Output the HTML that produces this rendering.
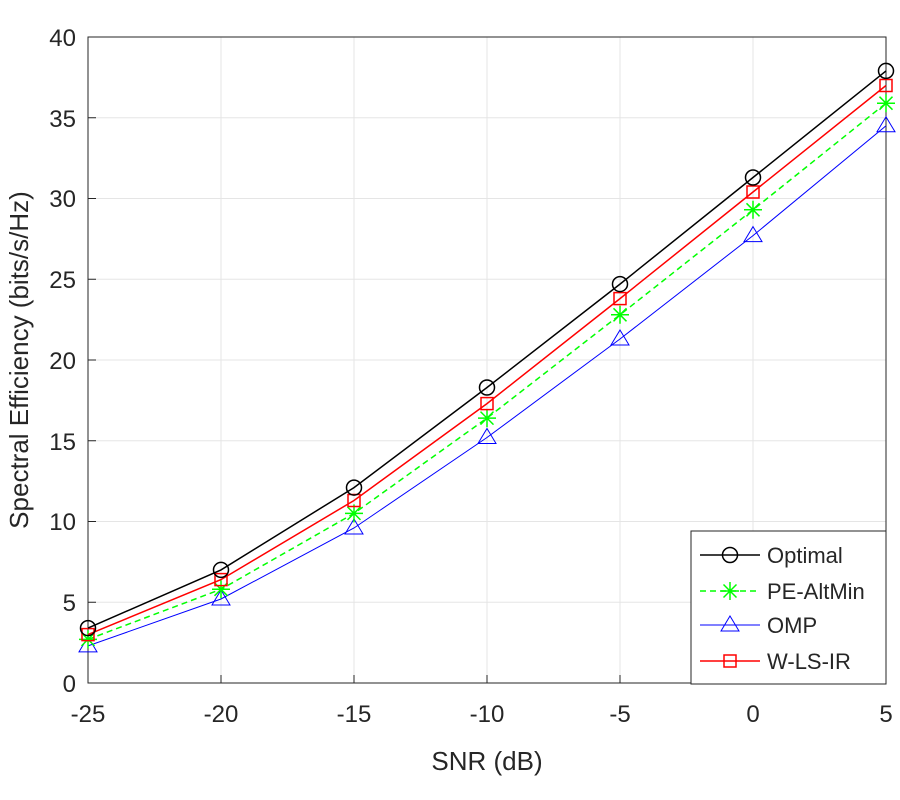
<!DOCTYPE html>
<html><head><meta charset="utf-8"><style>body{margin:0;background:#fff}svg{display:block}text{font-family:"Liberation Sans",sans-serif;fill:#262626}</style></head><body>
<svg width="900" height="800" xmlns="http://www.w3.org/2000/svg">
<rect x="0" y="0" width="900" height="800" fill="#fff"/>
<g stroke="#e5e5e5" stroke-width="1">
<line x1="221" y1="37" x2="221" y2="683"/><line x1="354" y1="37" x2="354" y2="683"/><line x1="487" y1="37" x2="487" y2="683"/><line x1="620" y1="37" x2="620" y2="683"/><line x1="753" y1="37" x2="753" y2="683"/>
<line x1="88" y1="602.25" x2="886" y2="602.25"/><line x1="88" y1="521.5" x2="886" y2="521.5"/><line x1="88" y1="440.75" x2="886" y2="440.75"/><line x1="88" y1="360" x2="886" y2="360"/><line x1="88" y1="279.25" x2="886" y2="279.25"/><line x1="88" y1="198.5" x2="886" y2="198.5"/><line x1="88" y1="117.75" x2="886" y2="117.75"/>
</g>
<rect x="88" y="37" width="798" height="646" fill="none" stroke="#262626" stroke-width="1"/>
<g stroke="#262626">
<line x1="221" y1="683" x2="221" y2="675"/><line x1="354" y1="683" x2="354" y2="675"/><line x1="487" y1="683" x2="487" y2="675"/><line x1="620" y1="683" x2="620" y2="675"/><line x1="753" y1="683" x2="753" y2="675"/>
<line x1="88" y1="602.25" x2="96" y2="602.25"/><line x1="88" y1="521.5" x2="96" y2="521.5"/><line x1="88" y1="440.75" x2="96" y2="440.75"/><line x1="88" y1="360" x2="96" y2="360"/><line x1="88" y1="279.25" x2="96" y2="279.25"/><line x1="88" y1="198.5" x2="96" y2="198.5"/><line x1="88" y1="117.75" x2="96" y2="117.75"/>
</g>
<g font-size="24" text-anchor="middle">
<text x="88" y="722">-25</text><text x="221" y="722">-20</text><text x="354" y="722">-15</text><text x="487" y="722">-10</text><text x="620" y="722">-5</text><text x="753" y="722">0</text><text x="886" y="722">5</text>
</g>
<g font-size="24" text-anchor="end">
<text x="76" y="692">0</text><text x="76" y="611">5</text><text x="76" y="530">10</text><text x="76" y="450">15</text><text x="76" y="369">20</text><text x="76" y="288">25</text><text x="76" y="207">30</text><text x="76" y="127">35</text><text x="76" y="46">40</text>
</g>
<text x="487" y="770" font-size="26" text-anchor="middle">SNR (dB)</text>
<text transform="translate(28,360) rotate(-90)" font-size="26" text-anchor="middle">Spectral Efficiency (bits/s/Hz)</text>
<polyline fill="none" stroke="#0000ff" stroke-width="1" points="88,645.9 221,599 354,528 487,437.5 620,339 753,235.6 886,125.8"/>
<g fill="none" stroke="#0000ff" stroke-width="1">
<path d="M88,636.9 l9,15 h-18z"/><path d="M221,590 l9,15 h-18z"/><path d="M354,519 l9,15 h-18z"/><path d="M487,428.5 l9,15 h-18z"/><path d="M620,330 l9,15 h-18z"/><path d="M753,226.6 l9,15 h-18z"/><path d="M886,116.8 l9,15 h-18z"/>
</g>
<polyline fill="none" stroke="#00ff00" stroke-width="1.5" stroke-dasharray="6,4" points="88,639.4 221,589.3 354,513.4 487,418.1 620,314.8 753,209.8 886,103.2"/>
<g stroke="#00ff00" stroke-width="1.5">
<path d="M-9,0h18M0,-9v18M-6.5,-6.5l13,13M-6.5,6.5l13,-13" transform="translate(88,639.4)"/>
<path d="M-9,0h18M0,-9v18M-6.5,-6.5l13,13M-6.5,6.5l13,-13" transform="translate(221,589.3)"/>
<path d="M-9,0h18M0,-9v18M-6.5,-6.5l13,13M-6.5,6.5l13,-13" transform="translate(354,513.4)"/>
<path d="M-9,0h18M0,-9v18M-6.5,-6.5l13,13M-6.5,6.5l13,-13" transform="translate(487,418.1)"/>
<path d="M-9,0h18M0,-9v18M-6.5,-6.5l13,13M-6.5,6.5l13,-13" transform="translate(620,314.8)"/>
<path d="M-9,0h18M0,-9v18M-6.5,-6.5l13,13M-6.5,6.5l13,-13" transform="translate(753,209.8)"/>
<path d="M-9,0h18M0,-9v18M-6.5,-6.5l13,13M-6.5,6.5l13,-13" transform="translate(886,103.2)"/>
</g>
<polyline fill="none" stroke="#ff0000" stroke-width="1.5" points="88,634.6 221,579.6 354,500.5 487,403.6 620,298.6 753,192 886,85.5"/>
<g fill="none" stroke="#ff0000" stroke-width="1.5">
<rect x="82" y="628.6" width="12" height="12"/><rect x="215" y="573.6" width="12" height="12"/><rect x="348" y="494.5" width="12" height="12"/><rect x="481" y="397.6" width="12" height="12"/><rect x="614" y="292.6" width="12" height="12"/><rect x="747" y="186" width="12" height="12"/><rect x="880" y="79.5" width="12" height="12"/>
</g>
<polyline fill="none" stroke="#000" stroke-width="1.5" points="88,628.1 221,569.9 354,487.6 487,387.5 620,284.1 753,177.5 886,70.9"/>
<g fill="none" stroke="#000" stroke-width="1.5">
<circle cx="88" cy="628.1" r="7.5"/><circle cx="221" cy="569.9" r="7.5"/><circle cx="354" cy="487.6" r="7.5"/><circle cx="487" cy="387.5" r="7.5"/><circle cx="620" cy="284.1" r="7.5"/><circle cx="753" cy="177.5" r="7.5"/><circle cx="886" cy="70.9" r="7.5"/>
</g>
<rect x="691" y="531" width="195" height="153" fill="#fff" stroke="#262626" stroke-width="1"/>
<line x1="700" y1="555" x2="760" y2="555" stroke="#000" stroke-width="1.5"/><circle cx="730" cy="555" r="7.5" fill="none" stroke="#000" stroke-width="1.5"/>
<line x1="700" y1="591" x2="760" y2="591" stroke="#00ff00" stroke-width="1.5" stroke-dasharray="6,4"/><path d="M-9,0h18M0,-9v18M-6.5,-6.5l13,13M-6.5,6.5l13,-13" transform="translate(730,591)" stroke="#00ff00" stroke-width="1.5"/>
<line x1="700" y1="625" x2="760" y2="625" stroke="#0000ff" stroke-width="1"/><path d="M730,616 l9,15 h-18z" fill="none" stroke="#0000ff"/>
<line x1="700" y1="661" x2="760" y2="661" stroke="#ff0000" stroke-width="1.5"/><rect x="724" y="655" width="12" height="12" fill="none" stroke="#ff0000" stroke-width="1.5"/>
<g font-size="22"><text x="767" y="563">Optimal</text><text x="767" y="599">PE-AltMin</text><text x="767" y="633">OMP</text><text x="767" y="669">W-LS-IR</text></g>
</svg>
</body></html>
